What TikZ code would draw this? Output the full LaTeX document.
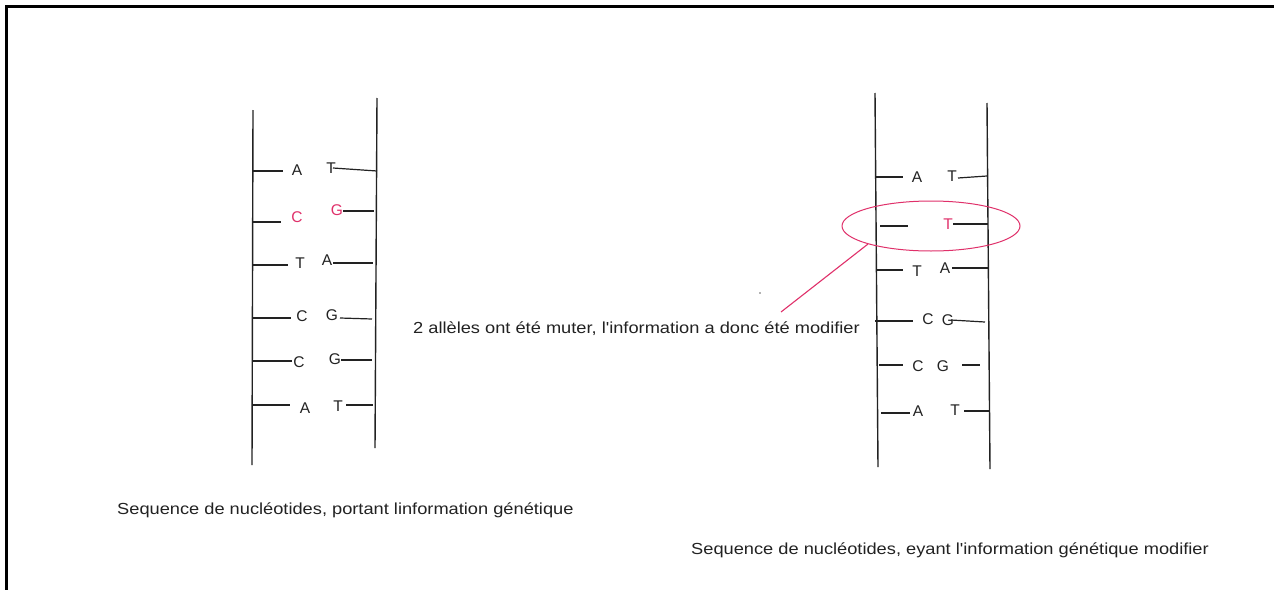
\documentclass[tikz,border=0pt]{standalone}
\usepackage{graphicx}
\usepackage{fontspec}
\setmainfont{Liberation Sans}
\usetikzlibrary{shapes.geometric}
\definecolor{ink}{HTML}{222222}
\definecolor{mut}{HTML}{E0306A}
\begin{document}
\begin{tikzpicture}[x=1pt,y=-1pt,
  rail/.style={line width=1.4pt, draw=ink},
  rung/.style={line width=1.2pt, draw=ink},
  base/.style={font=\fontsize{15.5}{17}\selectfont, text=ink, inner sep=0pt},
  redbase/.style={base, text=mut},
  caption/.style={font=\fontsize{16}{19}\selectfont, text=ink, inner sep=0pt, anchor=west}]
\useasboundingbox (0,0) rectangle (1274,589);
\fill[white] (0,0) rectangle (1274,589);
% frame
\draw[line width=3pt, miter limit=10] (6,592) -- (6,6) -- (1277,6);

% ---------- left ladder ----------
\draw[rail] (253,110) -- (252,465);
\draw[rail] (377,98) -- (375,448);
\node[base] (la1) at (297,170) {A};
\node[base] (lb1) at (331,168) {T};
\node[redbase] (la2) at (297,217) {C};
\node[redbase] (lb2) at (337,210) {G};
\node[base] (la3) at (300,263) {T};
\node[base] (lb3) at (327,260) {A};
\node[base] (la4) at (302,316) {C};
\node[base] (lb4) at (332,315) {G};
\node[base] (la5) at (299,362) {C};
\node[base] (lb5) at (335,359) {G};
\node[base] (la6) at (305,408) {A};
\node[base] (lb6) at (338,406) {T};
\draw[rung] (253,171) -- (283,171);
\draw[rung] (333,168) -- (377,171);
\draw[rung] (252,222) -- (281,222);
\draw[rung] (343,211) -- (374,211);
\draw[rung] (253,265) -- (288,265);
\draw[rung] (333,263) -- (373,263);
\draw[rung] (252,318) -- (291,318);
\draw[rung] (340,318) -- (372,319);
\draw[rung] (252,361) -- (292,361);
\draw[rung] (341,360) -- (372,360);
\draw[rung] (252,405) -- (290,405);
\draw[rung] (346,405) -- (373,405);

% ---------- right ladder ----------
\draw[rail] (875,93) -- (878,467);
\draw[rail] (987,103) -- (990,469);
\node[base] (ra1) at (917,177) {A};
\node[base] (rb1) at (952,176) {T};
\node[redbase] (rb2) at (948,224) {T};
\node[base] (ra3) at (917,271) {T};
\node[base] (rb3) at (945,268) {A};
\node[base] (ra4) at (928,319) {C};
\node[base] (rb4) at (948,320) {G};
\node[base] (ra5) at (918,366) {C};
\node[base] (rb5) at (943,366) {G};
\node[base] (ra6) at (918,411) {A};
\node[base] (rb6) at (955,410) {T};
\draw[rung] (875,177) -- (903,177);
\draw[rung] (958,178) -- (987,176);
\draw[rung] (880,226) -- (908,226);
\draw[rung] (953,224) -- (988,224);
\draw[rung] (876,270) -- (903,270);
\draw[rung] (952,268) -- (988,268);
\draw[rung] (875,321) -- (913,321);
\draw[rung] (951,320) -- (985,322);
\draw[rung] (879,365) -- (903,365);
\draw[rung] (962,365) -- (980,365);
\draw[rung] (881,413) -- (910,413);
\draw[rung] (964,411) -- (990,411);

% mutation ellipse and callout
\node[ellipse, draw=mut, line width=1pt, minimum width=178pt, minimum height=50pt, inner sep=0pt] (ell) at (931,226) {};
\node[caption] (mid) at (413,329) {\scalebox{1.14}[1]{2 allèles ont été muter, l\textquotesingle information a donc été modifier}};
\coordinate (tip) at (781,312);
\draw[mut, line width=1.1pt] (ell.196) -- (tip);
\fill[black!60] (760,293) circle (0.8pt);

% captions
\node[caption] (cap1) at (117,510) {\scalebox{1.14}[1]{Sequence de nucléotides, portant linformation génétique}};
\node[caption] (cap2) at (691,550) {\scalebox{1.14}[1]{Sequence de nucléotides, eyant l\textquotesingle information génétique modifier}};
\end{tikzpicture}
\end{document}
